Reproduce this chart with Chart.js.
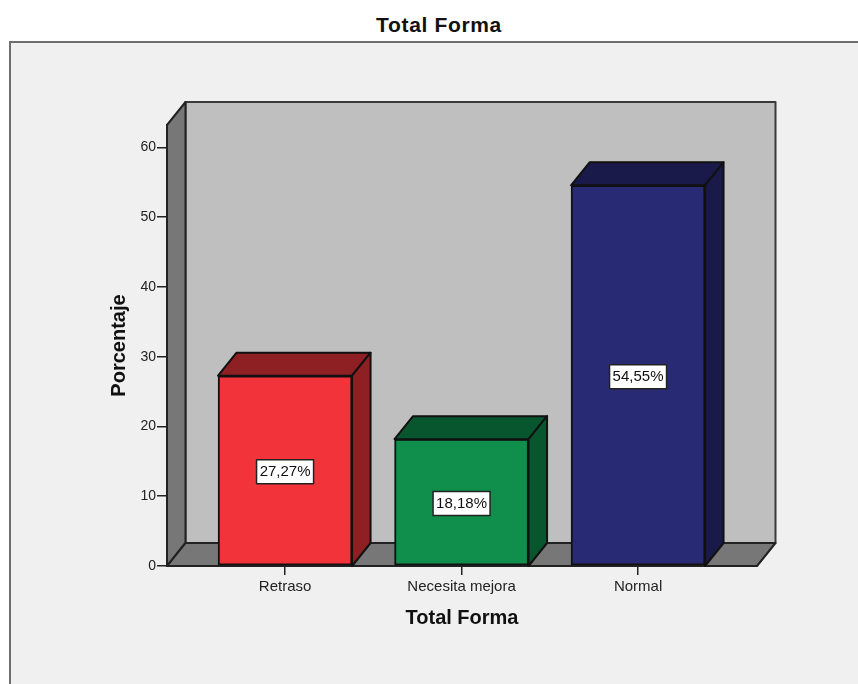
<!DOCTYPE html>
<html>
<head>
<meta charset="utf-8">
<title>Total Forma</title>
<script src="https://cdn.jsdelivr.net/npm/chart.js@4"></script>
<style>
    html, body { margin: 0; background: #fff; overflow: hidden; }
    #wrap { position: relative; width: 858px; height: 684px; overflow: hidden; }
    #frame {
        position: absolute; left: 9px; top: 41px; width: 900px; height: 700px;
        background: #f0f0f0; border: 2px solid #6e6e6e;
    }
    #heading {
        position: absolute; left: 339px; width: 200px; top: 13px; text-align: center;
        font: bold 21px "Liberation Sans", Arial, sans-serif; letter-spacing: 0.65px; color: #111; line-height: 24px;
    }
    canvas { position: absolute; left: 0; top: 0; }
</style>
</head>
<body>
<div id="wrap">
    <div id="frame"></div>
    <div id="heading">Total Forma</div>
    <canvas id="chart" width="858" height="684"></canvas>
</div>
<script>
// Datos del gráfico
const categories = ["Retraso", "Necesita mejora", "Normal"];
const percentages = [27.27, 18.18, 54.55];
const yTicks = [0, 10, 20, 30, 40, 50, 60];

// Colores
const frontColors = ["#f2333a", "#0f8f4b", "#282a73"];
const darkColors = ["#8e1f23", "#07562e", "#191a4a"];
const WALL_BACK = "#bfbfbf";
const WALL_SIDE = "#777777";
const EDGE = "#222222";

// Profundidad del efecto 3D
const DEPTH_X = 18.5;
const DEPTH_Y = 23;

function poly(ctx, points, fill, stroke) {
    ctx.beginPath();
    points.forEach((p, i) => i ? ctx.lineTo(p[0], p[1]) : ctx.moveTo(p[0], p[1]));
    ctx.closePath();
    ctx.fillStyle = fill;
    ctx.fill();
    ctx.strokeStyle = stroke;
    ctx.lineWidth = 2;
    ctx.lineJoin = "round";
    ctx.stroke();
}

// Paredes y suelo detrás de las barras
const wallsPlugin = {
    id: 'walls',
    beforeDraw(chart) {
        const { ctx, chartArea: a } = chart;
        const d = [DEPTH_X, DEPTH_Y];
        ctx.save();
        poly(ctx, [[a.left + d[0], a.top - d[1]], [a.right + d[0], a.top - d[1]],
                   [a.right + d[0], a.bottom - d[1]], [a.left + d[0], a.bottom - d[1]]], WALL_BACK, "#3a3a3a");
        poly(ctx, [[a.left, a.top], [a.left + d[0], a.top - d[1]],
                   [a.left + d[0], a.bottom - d[1]], [a.left, a.bottom]], WALL_SIDE, "#222");
        poly(ctx, [[a.left, a.bottom], [a.left + d[0], a.bottom - d[1]],
                   [a.right + d[0], a.bottom - d[1]], [a.right, a.bottom]], WALL_SIDE, "#222");
        ctx.restore();
    }
};

// Caras superior y lateral de cada barra, y su etiqueta
const barFacesPlugin = {
    id: 'barFaces',
    afterDatasetsDraw(chart) {
        const { ctx, scales } = chart;
        chart.getDatasetMeta(0).data.forEach((bar, i) => {
            const l = bar.x - bar.width / 2;
            const r = bar.x + bar.width / 2;
            const top = bar.y;
            const base = scales.y.getPixelForValue(0);
            ctx.save();
            poly(ctx, [[l, top], [l + DEPTH_X, top - DEPTH_Y], [r + DEPTH_X, top - DEPTH_Y], [r, top]], darkColors[i], "#111");
            poly(ctx, [[r, top], [r + DEPTH_X, top - DEPTH_Y], [r + DEPTH_X, base - DEPTH_Y], [r, base]], darkColors[i], "#111");

            const label = percentages[i].toFixed(2).replace(".", ",") + "%";
            const midY = scales.y.getPixelForValue(percentages[i] / 2) + 1;
            ctx.font = '15px "Liberation Sans", Arial, sans-serif';
            ctx.textAlign = "center";
            ctx.textBaseline = "middle";
            ctx.fillStyle = "#fff";
            ctx.strokeStyle = "#222";
            ctx.lineWidth = 1.5;
            ctx.fillRect(bar.x - 28.5, midY - 12, 57, 24);
            ctx.strokeRect(bar.x - 28.5, midY - 12, 57, 24);
            ctx.fillStyle = "#111";
            ctx.fillText(label, bar.x, midY + 0.5);
            ctx.restore();
        });
    }
};

new Chart(document.getElementById('chart').getContext('2d'), {
    type: 'bar',
    data: {
        datasets: [{
            data: categories.map((c, i) => ({ x: i, y: percentages[i] })),
            backgroundColor: frontColors,
            borderColor: "#111",
            borderWidth: 2,
            borderSkipped: false,
            barThickness: 134
        }]
    },
    options: {
        responsive: false,
        animation: false,
        devicePixelRatio: 1,
        layout: { padding: { left: 107, right: 101, top: 125, bottom: 54 } },
        plugins: { legend: { display: false }, tooltip: { enabled: false } },
        scales: {
            x: {
                type: 'linear',
                offset: false,
                min: -0.669,
                max: 2.674,
                afterBuildTicks(s) { s.ticks = categories.map((c, i) => ({ value: i })); },
                afterFit(s) { s.height = 64; },
                grid: { offset: false, drawOnChartArea: false, tickLength: 9, color: EDGE, lineWidth: 1.5 },
                border: { color: EDGE, width: 2 },
                ticks: {
                    autoSkip: false, maxRotation: 0, color: "#222", padding: 3,
                    font: { family: '"Liberation Sans", Arial, sans-serif', size: 15 },
                    callback: v => categories[v]
                },
                title: {
                    display: true, text: "Total Forma", color: "#111", padding: 0,
                    font: { family: '"Liberation Sans", Arial, sans-serif', size: 20, weight: 'bold' }
                }
            },
            y: {
                min: 0,
                max: 63.2,
                afterBuildTicks(s) { s.ticks = yTicks.map(v => ({ value: v })); },
                afterFit(s) { s.width = 60; },
                grid: { drawOnChartArea: false, tickLength: 10, color: EDGE, lineWidth: 1.5 },
                border: { color: EDGE, width: 2 },
                ticks: {
                    color: "#222", padding: 1,
                    font: { family: '"Liberation Sans", Arial, sans-serif', size: 14 }
                },
                title: {
                    display: true, text: "Porcentaje", color: "#111", padding: 0,
                    font: { family: '"Liberation Sans", Arial, sans-serif', size: 20, weight: 'bold' }
                }
            }
        }
    },
    plugins: [wallsPlugin, barFacesPlugin]
});
</script>
</body>
</html>
